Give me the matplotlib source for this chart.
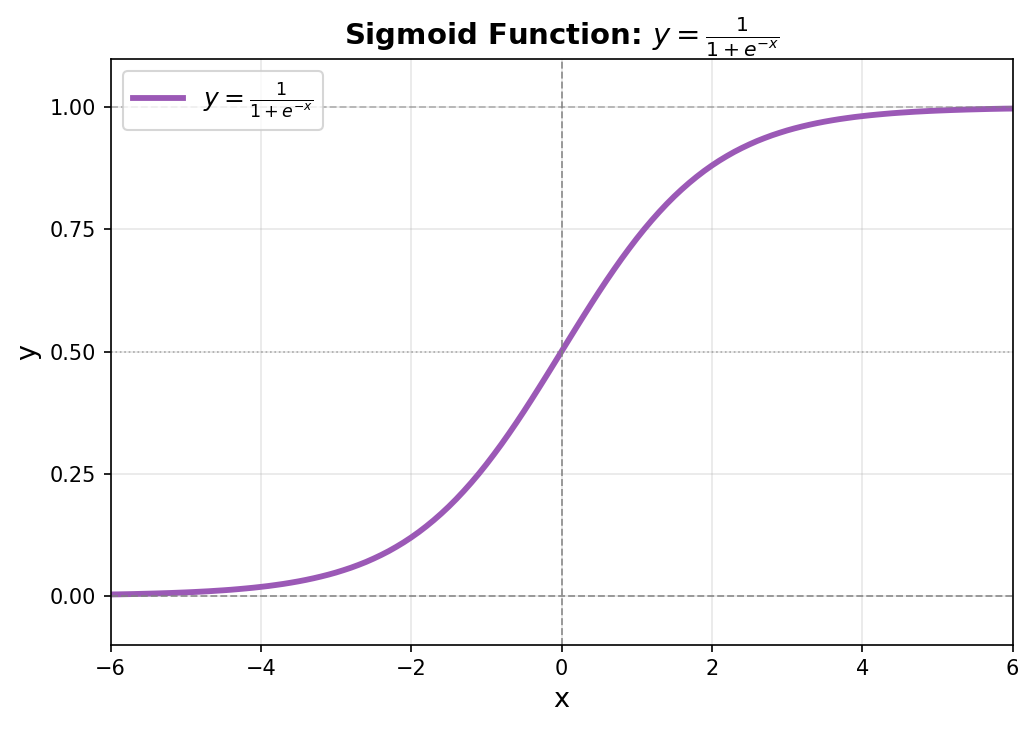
import matplotlib
matplotlib.use("Agg")
import matplotlib.pyplot as plt

x_vals = [-6.0, -5.9, -5.8, -5.7, -5.6, -5.5, -5.4, -5.3, -5.2, -5.1,
          -5.0, -4.9, -4.8, -4.7, -4.6, -4.5, -4.4, -4.3, -4.2, -4.1,
          -4.0, -3.9, -3.8, -3.7, -3.6, -3.5, -3.4, -3.3, -3.2, -3.1,
          -3.0, -2.9, -2.8, -2.7, -2.6, -2.5, -2.4, -2.3, -2.2, -2.1,
          -2.0, -1.9, -1.8, -1.7, -1.6, -1.5, -1.4, -1.3, -1.2, -1.1,
          -1.0, -0.9, -0.8, -0.7, -0.6, -0.5, -0.4, -0.3, -0.2, -0.1,
          0.0, 0.1, 0.2, 0.3, 0.4, 0.5, 0.6, 0.7, 0.8, 0.9,
          1.0, 1.1, 1.2, 1.3, 1.4, 1.5, 1.6, 1.7, 1.8, 1.9,
          2.0, 2.1, 2.2, 2.3, 2.4, 2.5, 2.6, 2.7, 2.8, 2.9,
          3.0, 3.1, 3.2, 3.3, 3.4, 3.5, 3.6, 3.7, 3.8, 3.9,
          4.0, 4.1, 4.2, 4.3, 4.4, 4.5, 4.6, 4.7, 4.8, 4.9,
          5.0, 5.1, 5.2, 5.3, 5.4, 5.5, 5.6, 5.7, 5.8, 5.9, 6.0]
y_vals = [0.0025, 0.0027, 0.0030, 0.0033, 0.0037, 0.0041, 0.0045, 0.0050, 0.0055, 0.0061,
          0.0067, 0.0074, 0.0082, 0.0090, 0.0100, 0.0110, 0.0121, 0.0134, 0.0148, 0.0163,
          0.0180, 0.0198, 0.0219, 0.0241, 0.0266, 0.0293, 0.0323, 0.0356, 0.0392, 0.0431,
          0.0474, 0.0522, 0.0573, 0.0630, 0.0691, 0.0759, 0.0832, 0.0911, 0.0998, 0.1091,
          0.1192, 0.1301, 0.1419, 0.1545, 0.1680, 0.1824, 0.1978, 0.2142, 0.2315, 0.2497,
          0.2689, 0.2891, 0.3100, 0.3318, 0.3543, 0.3775, 0.4013, 0.4256, 0.4502, 0.4750,
          0.5000, 0.5250, 0.5498, 0.5744, 0.5987, 0.6225, 0.6457, 0.6682, 0.6900, 0.7109,
          0.7311, 0.7503, 0.7685, 0.7858, 0.8022, 0.8176, 0.8320, 0.8455, 0.8581, 0.8699,
          0.8808, 0.8909, 0.9002, 0.9089, 0.9168, 0.9241, 0.9309, 0.9370, 0.9427, 0.9478,
          0.9526, 0.9569, 0.9608, 0.9644, 0.9677, 0.9707, 0.9734, 0.9759, 0.9781, 0.9802,
          0.9820, 0.9837, 0.9852, 0.9866, 0.9879, 0.9890, 0.9900, 0.9910, 0.9918, 0.9926,
          0.9933, 0.9939, 0.9945, 0.9950, 0.9955, 0.9959, 0.9963, 0.9967, 0.9970, 0.9973, 0.9975]
x_ticks = [-6, -4, -2, 0, 2, 4, 6]
y_ticks = [0.00, 0.25, 0.50, 0.75, 1.00]

fig = plt.figure(figsize=(1034 / 150, 729 / 150), dpi=150)
ax = fig.add_axes([110.5 / 1034, 1 - 644.5 / 729, (1012.5 - 110.5) / 1034, (644.5 - 58.5) / 729])

ax.plot(x_vals, y_vals, color="#9b59b6", linewidth=2.8, label=r"$y = \frac{1}{1+e^{-x}}$")
ax.axhline(0, color="gray", linestyle="--", linewidth=0.9, alpha=0.8)
ax.axhline(1, color="gray", linestyle="--", linewidth=0.9, alpha=0.5)
ax.axvline(0, color="gray", linestyle="--", linewidth=0.9, alpha=0.8)
ax.axhline(0.5, color="gray", linestyle=":", linewidth=0.8, alpha=0.6)

ax.set_xlim(-6, 6)
ax.set_ylim(-0.1, 1.1)
ax.set_xticks(x_ticks)
ax.set_yticks(y_ticks)
ax.set_yticklabels([f"{v:.2f}" for v in y_ticks])
ax.grid(True, alpha=0.3)
ax.set_xlabel("x", fontsize=13)
ax.set_ylabel("y", fontsize=13)
ax.set_title(r"Sigmoid Function: $y = \frac{1}{1+e^{-x}}$", fontsize=14, fontweight="bold")
ax.legend(loc="upper left", fontsize=12)

fig.savefig("out.png", dpi=150)
